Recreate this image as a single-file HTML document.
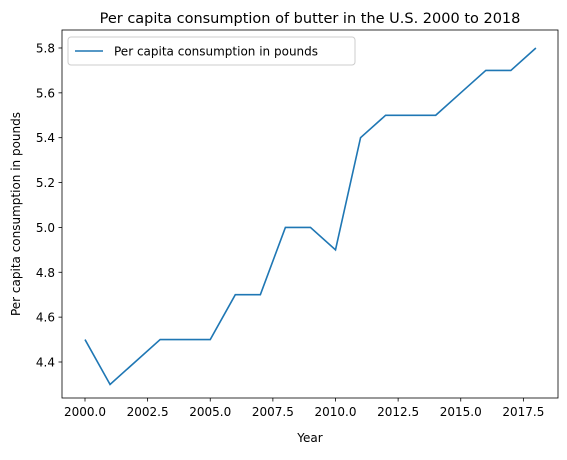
<!DOCTYPE html>
<html><head><meta charset="utf-8"><style>
body{margin:0;background:#fff;}
svg text{font-family:"DejaVu Sans","Liberation Sans",sans-serif;fill:#000;}
</style></head><body>
<svg id="chart" width="567" height="455" xmlns="http://www.w3.org/2000/svg">
<rect width="567" height="455" fill="#fff"/>
<text x="310" y="23" font-size="14.5" text-anchor="middle">Per capita consumption of butter in the U.S. 2000 to 2018</text>
<g id="xt"></g><g id="yt"></g>
<polyline id="line" fill="none" stroke="#1f77b4" stroke-width="1.6"/>
<rect x="62" y="30" width="496" height="368" fill="none" stroke="#000" stroke-width="0.8"/>
<text x="310" y="442" font-size="12" text-anchor="middle">Year</text>
<text transform="translate(20,214) rotate(-90)" font-size="12" text-anchor="middle">Per capita consumption in pounds</text>
<g>
<rect x="68" y="37" width="287" height="28" rx="3" fill="#fff" stroke="#ccc"/>
<line x1="75" y1="51" x2="103" y2="51" stroke="#1f77b4" stroke-width="1.6"/>
<text x="114" y="55.5" font-size="12">Per capita consumption in pounds</text>
</g>
</svg>
<script>
const years=[2000,2001,2002,2003,2004,2005,2006,2007,2008,2009,2010,2011,2012,2013,2014,2015,2016,2017,2018];
const values=[4.5,4.3,4.4,4.5,4.5,4.5,4.7,4.7,5.0,5.0,4.9,5.4,5.5,5.5,5.5,5.6,5.7,5.7,5.8];
const xTicks=[2000,2002.5,2005,2007.5,2010,2012.5,2015,2017.5];
const yTicks=[4.4,4.6,4.8,5.0,5.2,5.4,5.6,5.8];
const xs=v=>85+(v-2000)*25.05;
const ys=v=>362-(v-4.4)*224.3;
const NS="http://www.w3.org/2000/svg";
document.getElementById('line').setAttribute('points',years.map((y,i)=>xs(y)+','+ys(values[i])).join(' '));
const xt=document.getElementById('xt');
xTicks.forEach(t=>{
 const l=document.createElementNS(NS,'line');
 l.setAttribute('x1',xs(t));l.setAttribute('x2',xs(t));l.setAttribute('y1',398);l.setAttribute('y2',401.5);l.setAttribute('stroke','#000');l.setAttribute('stroke-width','0.8');
 
 
 xt.appendChild(l);
 const tx=document.createElementNS(NS,'text');
 tx.setAttribute('x',xs(t));tx.setAttribute('y',416);tx.setAttribute('font-size','12');tx.setAttribute('text-anchor','middle');
 tx.textContent=t.toFixed(1);
 
 
 xt.appendChild(tx);
});
const yt=document.getElementById('yt');
yTicks.forEach(t=>{
 const l=document.createElementNS(NS,'line');
 l.setAttribute('x1',58.5);l.setAttribute('x2',62);l.setAttribute('y1',ys(t));l.setAttribute('y2',ys(t));l.setAttribute('stroke','#000');l.setAttribute('stroke-width','0.8');
 
 
 yt.appendChild(l);
 const tx=document.createElementNS(NS,'text');
 tx.setAttribute('x',55);tx.setAttribute('y',ys(t)+4.5);tx.setAttribute('font-size','12');tx.setAttribute('text-anchor','end');
 tx.textContent=t.toFixed(1);
 
 
 yt.appendChild(tx);
});
</script>
</body></html>
